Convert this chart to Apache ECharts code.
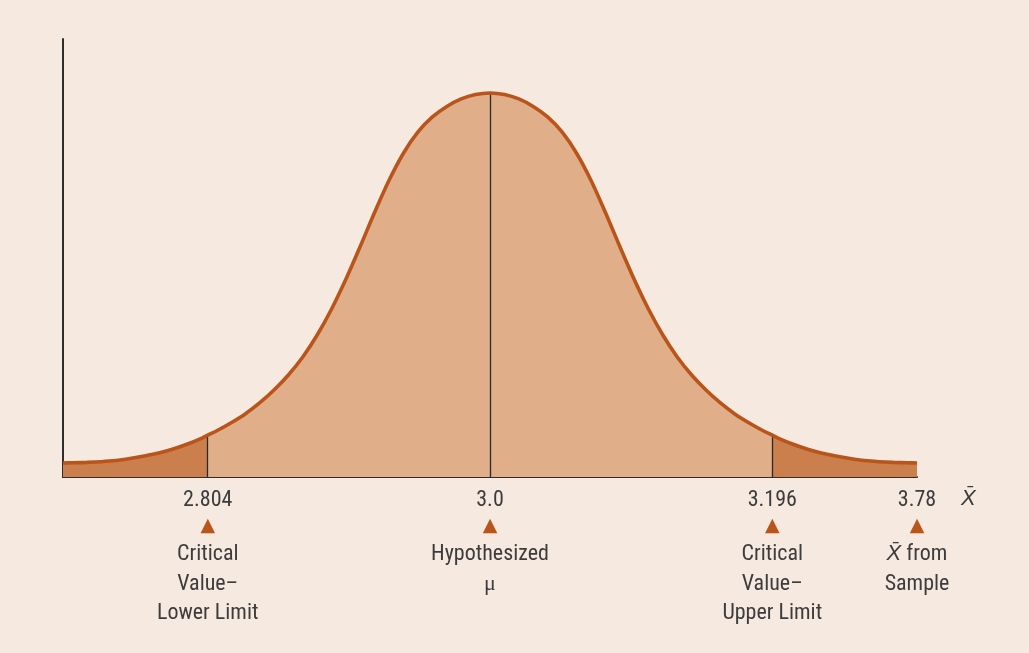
<!DOCTYPE html>
<html>
<head>
<meta charset="utf-8">
<script src="https://cdn.jsdelivr.net/npm/echarts@6/dist/echarts.min.js"></script>
<style>
html,body{margin:0;padding:0;background:#f6e9df;}
#chart{width:1029px;height:653px;}
</style>
</head>
<body>
<div id="chart"></div>
<script>
// ---- data ----
const xValues = [2.7035, 2.71, 2.72, 2.73, 2.74, 2.75, 2.76, 2.77, 2.78, 2.79, 2.80, 2.804, 2.81, 2.82, 2.83, 2.84,
                 2.85, 2.86, 2.87, 2.88, 2.89, 2.90, 2.91, 2.92, 2.93, 2.94, 2.95, 2.96, 2.97, 2.98, 2.99, 3.00,
                 3.01, 3.02, 3.03, 3.04, 3.05, 3.06, 3.07, 3.08, 3.09, 3.10, 3.11, 3.12, 3.13, 3.14, 3.15, 3.16,
                 3.17, 3.18, 3.19, 3.196, 3.20, 3.21, 3.22, 3.23, 3.24, 3.25, 3.26, 3.27, 3.28, 3.29, 3.2965];
const densityValues = [0.145, 0.148, 0.152, 0.159, 0.171, 0.192, 0.218, 0.249, 0.291, 0.343, 0.405, 0.436, 0.478, 0.561, 0.655, 0.769,
                       0.904, 1.060, 1.247, 1.475, 1.746, 2.057, 2.400, 2.754, 3.086, 3.367, 3.585, 3.741, 3.850, 3.928, 3.974, 3.990,
                       3.974, 3.928, 3.850, 3.741, 3.585, 3.367, 3.086, 2.754, 2.400, 2.057, 1.746, 1.475, 1.247, 1.060, 0.904, 0.769,
                       0.655, 0.561, 0.478, 0.436, 0.405, 0.343, 0.291, 0.249, 0.218, 0.192, 0.171, 0.159, 0.152, 0.148, 0.145];
const criticalLower = 2.804;
const hypothesizedMean = 3.0;
const criticalUpper = 3.196;
const sampleMean = 3.78;
const tickValues = [criticalLower, hypothesizedMean, criticalUpper, 3.2965];
const tickLabels = ['2.804', '3.0', '3.196', String(sampleMean)];
const tickCaptions = [
  ['Critical', 'Value–', 'Lower Limit'],
  ['Hypothesized', 'μ'],
  ['Critical', 'Value–', 'Upper Limit'],
  ['X̄ from', 'Sample']
];

const points = xValues.map((x, i) => [x, densityValues[i]]);
const leftTail = points.filter(p => p[0] <= criticalLower);
const center = points.filter(p => p[0] >= criticalLower && p[0] <= criticalUpper);
const rightTail = points.filter(p => p[0] >= criticalUpper);
const heightAt = x => densityValues[xValues.indexOf(x)];

// ---- choose a condensed sans face if one is installed ----
function pickFont() {
  const ctx = document.createElement('canvas').getContext('2d');
  const sample = 'Hypothesized';
  const measure = f => { ctx.font = f; return ctx.measureText(sample).width; };
  const candidates = [
    { stretch: '', family: "'Liberation Sans Narrow'" },
    { stretch: '', family: "'Roboto Condensed'" },
    { stretch: '', family: "'Arial Narrow'" },
    { stretch: 'condensed', family: "'Noto Sans'" },
    { stretch: 'condensed', family: "'Open Sans'" },
    { stretch: 'semi-condensed', family: "'Noto Sans'" },
    { stretch: 'semi-condensed', family: "'Open Sans'" },
    { stretch: '', family: "'DejaVu Sans Condensed'" },
    { stretch: 'condensed', family: "'DejaVu Sans'" }
  ];
  let best = null;
  for (const c of candidates) {
    const w = measure((c.stretch + ' 22px ' + c.family + ', monospace').trim());
    const wMono = measure((c.stretch + ' 22px monospace').trim());
    if (Math.abs(w - wMono) < 0.5) continue; // not installed
    if (c.stretch) {
      const wNormal = measure('22px ' + c.family + ', monospace');
      if (w > wNormal * 0.95) continue; // stretch not honoured
    }
    const score = Math.abs(w - 112);
    if (!best || score < best.score) best = { ...c, w, score };
  }
  if (best && best.w < 126) return { family: best.family + ", 'Liberation Sans', sans-serif", stretch: best.stretch, size: 22 };
  return { family: "'Liberation Sans', sans-serif", stretch: '', size: 20 };
}
const F = pickFont();
const FONT = F.family;
const FW = F.stretch || 'normal';
const FS = F.size;

const TEXT = '#3c3c3c';
const ORANGE = '#b9541a';

function caption(i) {
  const lines = tickCaptions[i].map(line => {
    if (line === 'μ') return '{mu|μ}';
    if (line.startsWith('X̄')) return '{ni|X̄}{n|' + line.slice(2) + '}';
    return '{n|' + line + '}';
  });
  return '{v|' + tickLabels[i] + '}\n{t|▲}\n' + lines.join('\n');
}

const chart = echarts.init(document.getElementById('chart'));
const smoothVal = 0.3;
chart.setOption({
  animation: false,
  backgroundColor: '#f6e9df',
  grid: { left: 63, right: 112, top: 39, bottom: 176, outerBoundsMode: 'none' },
  xAxis: {
    type: 'value',
    min: xValues[0],
    max: xValues[xValues.length - 1],
    splitLine: { show: false },
    axisTick: { show: false },
    axisLine: { lineStyle: { color: '#2e2e2e', width: 2 } },
    name: 'X̄',
    nameLocation: 'end',
    nameGap: 44,
    nameTextStyle: { fontFamily: FONT, fontWeight: FW, fontStyle: 'italic', fontSize: FS, color: TEXT, verticalAlign: 'top', padding: [11, 0, 0, 0] },
    axisLabel: {
      customValues: tickValues,
      margin: 11,
      interval: 0,
      showMinLabel: true,
      showMaxLabel: true,
      formatter: (val) => {
        let idx = 0, best = Infinity;
        tickValues.forEach((t, i) => { const d = Math.abs(t - val); if (d < best) { best = d; idx = i; } });
        return caption(idx);
      },
      rich: {
        v: { fontFamily: FONT, fontWeight: FW, fontSize: FS, color: TEXT, lineHeight: 24 },
        t: { fontFamily: 'DejaVu Sans', fontSize: 19, color: ORANGE, lineHeight: 28 },
        n: { fontFamily: FONT, fontWeight: FW, fontSize: FS, color: TEXT, lineHeight: 29.5 },
        ni: { fontFamily: FONT, fontWeight: FW, fontSize: FS, fontStyle: 'italic', color: TEXT, lineHeight: 29.5 },
        mu: { fontFamily: "'Liberation Serif', serif", fontSize: 22, color: TEXT, lineHeight: 29.5 }
      }
    }
  },
  yAxis: {
    type: 'value',
    min: 0,
    max: 4.551,
    splitLine: { show: false },
    axisTick: { show: false },
    axisLabel: { show: false },
    axisLine: { show: true, lineStyle: { color: '#2e2e2e', width: 2 } }
  },
  series: [
    { type: 'line', data: leftTail, smooth: smoothVal, symbol: 'none', lineStyle: { width: 0 },
      areaStyle: { color: '#cb7f4c', opacity: 1 }, z: 1, silent: true },
    { type: 'line', data: center, smooth: smoothVal, symbol: 'none', lineStyle: { width: 0 },
      areaStyle: { color: '#e0af89', opacity: 1 }, z: 1, silent: true },
    { type: 'line', data: rightTail, smooth: smoothVal, symbol: 'none', lineStyle: { width: 0 },
      areaStyle: { color: '#cb7f4c', opacity: 1 }, z: 1, silent: true },
    { type: 'line', data: points, smooth: smoothVal, symbol: 'none',
      lineStyle: { width: 3.6, color: ORANGE }, z: 3, silent: true,
      markLine: {
        silent: true, symbol: 'none', label: { show: false },
        lineStyle: { color: '#2a2a2a', width: 1.3, type: 'solid' },
        z: 2,
        data: [criticalLower, hypothesizedMean, criticalUpper].map(x => [
          { coord: [x, 0] }, { coord: [x, heightAt(x)] }
        ])
      }
    }
  ]
});
</script>
</body>
</html>
